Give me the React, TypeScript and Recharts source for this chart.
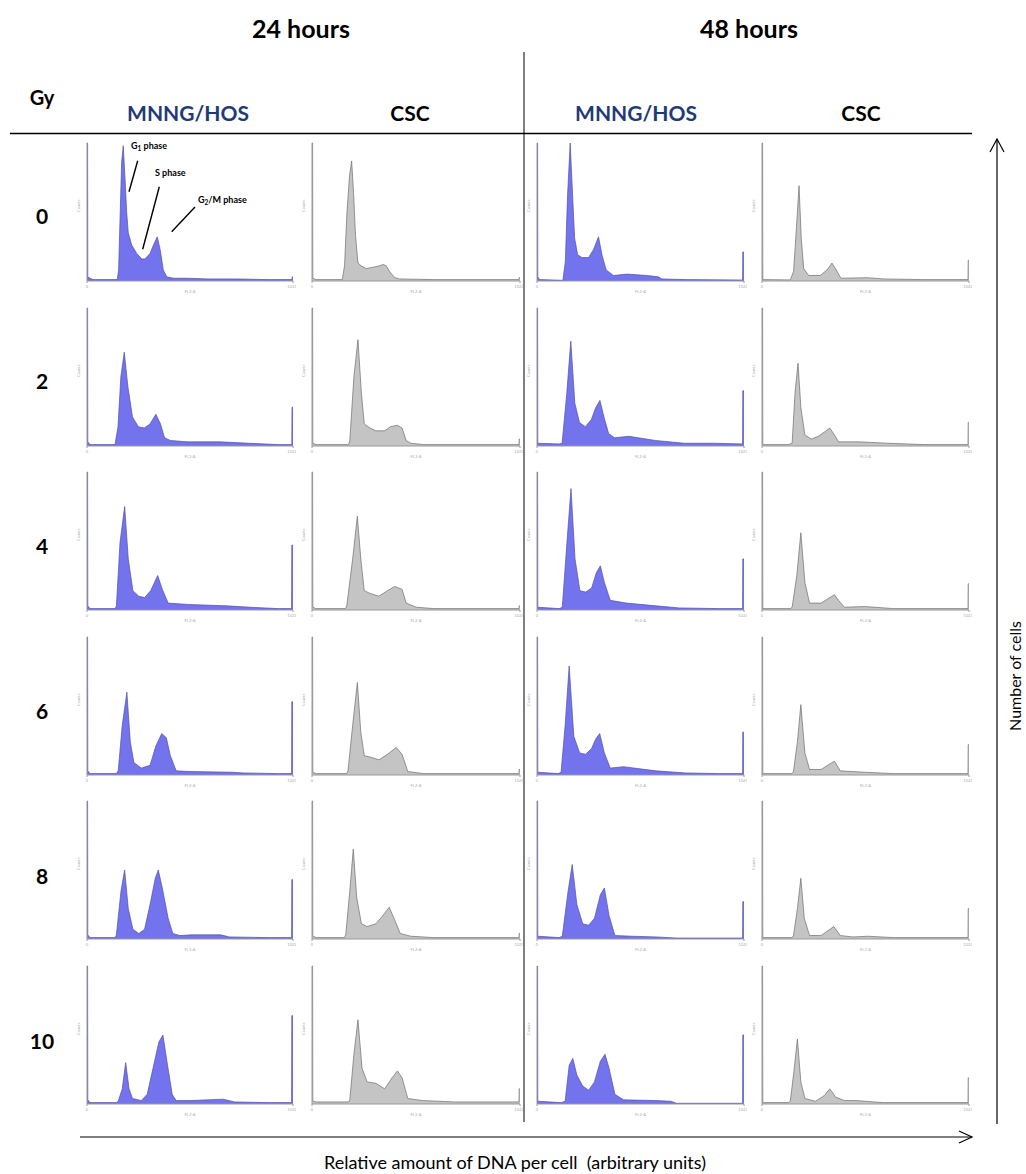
import React from 'react';
import { AreaChart, Area, XAxis, YAxis } from 'recharts';

// DNA histograms, [channel, % of full scale]
const hos24_0 = [[0,100],[3,100],[4,3],[15,2],[30,1],[150,1],[157,8],[165,50],[172,86],[180,98],[189,74],[197,50],[205,35],[222,26],[247,20],[272,16],[288,16],[313,20],[330,26],[349,32],[363,23],[379,8],[396,3],[430,2],[500,2],[600,1.5],[743,1.5],[900,1],[1018,1],[1019,3],[1023,3]];
const csc24_0 = [[0,100],[3,100],[4,2],[20,1],[149,1],[160,11],[172,50],[185,77],[195,87],[205,62],[214,33],[226,13],[242,11],[267,9],[300,10],[332,11],[350,12],[365,11],[381,7],[406,2.5],[430,1.5],[600,1],[1018,1],[1019,2.5],[1023,2.5]];
const hos48_0 = [[0,100],[3,100],[4,3],[12,1],[128,0.5],[140,14],[151,62],[164,100],[176,62],[186,31],[201,19],[222,17],[255,17],[280,23],[304,32],[321,19],[342,8],[378,4],[444,5],[543,4],[600,3],[617,1.5],[740,1],[1016,0.7],[1017,21],[1023,21]];
const csc48_0 = [[0,100],[3,100],[4,1],[140,0.8],[156,7],[170,38],[183,69],[194,31],[206,9],[231,4],[288,4],[321,8],[346,13],[367,8],[390,2],[519,2.4],[601,1.5],[800,1],[1018,1],[1019,15],[1023,15]];

const hos24_2 = [[0,100],[3,100],[4,3],[15,1],[139,1],[154,14],[168,50],[185,68],[203,43],[226,21],[255,14],[284,13],[313,16],[342,23],[365,16],[385,6],[414,4],[500,3],[661,3],[806,2],[950,1],[1017,1],[1018,28],[1023,28]];
const csc24_2 = [[0,100],[3,100],[4,2],[20,1],[180,1],[186,4],[206,50],[226,77],[243,38],[257,16],[286,13],[314,11],[357,11],[386,14],[420,15],[443,13],[463,4],[486,2],[550,1],[1018,1],[1019,5],[1023,5]];
const hos48_2 = [[0,100],[3,100],[4,2],[110,1.5],[124,2],[147,38],[167,76],[187,31],[210,17],[239,14],[268,19],[291,28],[311,33],[331,21],[354,9],[383,6],[455,7],[585,4],[729,2],[873,2],[1016,1.5],[1017,40],[1023,40]];
const csc48_2 = [[0,100],[3,100],[4,1],[130,1],[149,2],[163,38],[178,60],[192,28],[212,8],[244,5],[278,7],[307,10],[335,13],[358,8],[378,3],[479,3],[622,2],[800,1],[1018,1],[1019,17],[1023,17]];

const hos24_4 = [[0,100],[3,100],[4,3],[15,1],[140,1],[146,3],[164,49],[187,75],[205,37],[228,14],[257,10],[286,9],[316,14],[351,25],[374,15],[403,5],[505,4],[695,3],[812,2],[950,1],[1016,1],[1017,47],[1023,47]];
const csc24_4 = [[0,100],[3,100],[4,2],[20,1],[165,1],[171,3],[200,37],[223,68],[240,37],[257,14],[286,12],[329,10],[371,14],[406,17],[443,15],[463,5],[514,2],[600,1],[1018,1],[1019,3],[1023,3]];
const hos48_4 = [[0,100],[3,100],[4,2],[110,1],[125,2],[148,49],[168,88],[188,37],[212,14],[241,13],[270,16],[293,27],[313,32],[333,20],[362,7],[443,5],[588,3],[704,1.5],[900,1],[1016,1],[1017,37],[1023,37]];
const csc48_4 = [[0,100],[3,100],[4,1],[140,1],[149,2],[172,25],[192,56],[212,20],[235,5],[292,5],[335,9],[358,11],[378,7],[407,2],[507,2.5],[650,1],[1018,1],[1019,19],[1023,19]];

const hos24_6 = [[0,100],[3,100],[4,3],[15,1],[145,1],[155,3],[175,36],[198,60],[215,24],[233,9],[270,5],[313,7],[342,21],[371,30],[394,27],[414,14],[443,3],[516,2.5],[719,2],[777,1.5],[950,1],[1016,1],[1017,53],[1023,53]];
const csc24_6 = [[0,100],[3,100],[4,2],[20,1],[170,1],[177,3],[200,36],[223,67],[240,31],[257,14],[286,13],[329,11],[371,15],[414,20],[443,15],[471,2.5],[550,1],[1018,1],[1019,4],[1023,4]];
const hos48_6 = [[0,100],[3,100],[4,2],[105,1],[119,2],[139,36],[159,79],[182,28],[211,16],[240,15],[269,19],[290,26],[310,30],[333,16],[362,5],[428,6],[588,3],[733,1.5],[900,1],[1016,1],[1017,31],[1023,31]];
const csc48_6 = [[0,100],[3,100],[4,1],[145,1],[155,2],[175,24],[192,51],[212,16],[235,4],[292,4],[335,8],[358,10],[387,3],[507,2],[650,1],[1018,1],[1019,22],[1023,22]];

const hos24_8 = [[0,100],[3,100],[4,3],[15,1],[140,1],[146,3],[169,35],[187,50],[205,22],[228,7],[257,4],[286,7],[316,27],[339,44],[354,50],[374,37],[403,15],[426,4],[461,2.5],[519,3],[664,3],[708,1.5],[900,1],[1016,1],[1017,43],[1023,43]];
const csc24_8 = [[0,100],[3,100],[4,2],[20,1],[160,1],[166,3],[186,35],[203,65],[220,30],[243,11],[271,9],[314,11],[343,16],[380,23],[406,14],[434,4],[486,2],[600,1],[1018,1],[1019,4],[1023,4]];
const hos48_8 = [[0,100],[3,100],[4,2],[110,1],[125,2],[154,35],[174,54],[197,25],[226,11],[255,10],[284,15],[313,32],[333,37],[356,17],[385,2.5],[472,2],[588,1.5],[690,0.7],[1016,0.7],[1017,27],[1023,27]];
const csc48_8 = [[0,100],[3,100],[4,1],[145,1],[155,2],[175,22],[192,44],[209,15],[235,2.5],[292,2.5],[335,7],[355,9],[387,2.5],[450,1.5],[522,2],[650,1],[1018,1],[1019,22],[1023,22]];

const hos24_10 = [[0,100],[3,100],[4,3],[15,1],[145,1],[155,2],[175,11],[192,30],[209,11],[226,4],[270,2.5],[299,7],[328,26],[357,45],[377,50],[400,28],[423,7],[443,2.5],[516,2.5],[676,3.5],[734,1.5],[900,1],[1016,1],[1017,64],[1023,64]];
const csc24_10 = [[0,100],[3,100],[4,2],[20,1.5],[180,1.5],[186,3],[206,36],[226,61],[246,26],[271,16],[314,15],[357,11],[394,19],[420,24],[443,19],[471,4],[543,2.5],[700,1.5],[1018,1.5],[1019,11],[1023,11]];
const hos48_10 = [[0,100],[3,100],[4,2],[120,1],[139,2],[159,28],[177,33],[197,21],[226,13],[255,10],[284,16],[313,31],[336,36],[356,26],[385,7],[428,3],[588,2.5],[661,2],[690,0.5],[1016,0.5],[1017,50],[1023,50]];
const csc48_10 = [[0,100],[3,100],[4,1],[130,1],[140,2],[158,24],[175,47],[192,16],[212,4],[264,2],[307,6],[335,11],[364,5],[407,2.5],[464,2.5],[600,1],[1018,1],[1019,19],[1023,19]];

const doses = ['0', '2', '4', '6', '8', '10'];
const groups = ['MNNG/HOS', 'CSC', 'MNNG/HOS', 'CSC'];
const grid = [
  [hos24_0, csc24_0, hos48_0, csc48_0],
  [hos24_2, csc24_2, hos48_2, csc48_2],
  [hos24_4, csc24_4, hos48_4, csc48_4],
  [hos24_6, csc24_6, hos48_6, csc48_6],
  [hos24_8, csc24_8, hos48_8, csc48_8],
  [hos24_10, csc24_10, hos48_10, csc48_10],
];

const colLeft = [87, 312, 537, 762];
const colRight = [293, 520, 744, 969];
const groupX = [188, 410, 636, 861];
const ROW0 = 143;
const ROW_STEP = 164.6;
const PLOT_H = 138;
const Y_W = 10;
const X_H = 12;
const FONT = 'Lato, "Open Sans", sans-serif';
const NAVY = '#1f3a78';

const Panel = ({ data, col, row }: { data: number[][]; col: number; row: number }) => {
  const blue = col % 2 === 0;
  const rows = data.map(([ch, v]) => ({ ch, v }));
  const width = colRight[col] - colLeft[col] + Y_W + 3;
  return (
    <div style={{ position: 'absolute', left: colLeft[col] - Y_W, top: ROW0 + ROW_STEP * row - 2 }}>
      <AreaChart width={width} height={PLOT_H + 2 + X_H} data={rows} margin={{ top: 2, right: 3, bottom: 0, left: 0 }}>
        <XAxis
          dataKey="ch"
          type="number"
          domain={[0, 1023]}
          ticks={[0, 1023]}
          height={X_H}
          stroke="#9a9a9a"
          tickSize={2}
          tick={{ fontSize: 4, fill: '#aaa' }}
          label={{ value: 'FL2-A', position: 'insideBottom', offset: 0, fontSize: 4, fill: '#aaa' }}
        />
        <YAxis
          type="number"
          domain={[0, 100]}
          ticks={[0, 25, 50, 75, 100]}
          width={Y_W}
          stroke="#9a9a9a"
          tickSize={2}
          tick={false}
          label={{ value: 'Counts', angle: -90, position: 'insideLeft', offset: 2, fontSize: 4, fill: '#aaa' }}
        />
        <Area
          type="linear"
          dataKey="v"
          stroke={blue ? '#5050a8' : '#6e6e6e'}
          strokeWidth={0.7}
          fill={blue ? '#7373ee' : '#c4c4c4'}
          fillOpacity={1}
          isAnimationActive={false}
          dot={false}
          activeDot={false}
        />
      </AreaChart>
    </div>
  );
};

const App = () => {
  return (
    <div style={{ position: 'absolute', left: 0, top: 0, width: 1026, height: 1174, background: '#fff', fontFamily: FONT }}>
      {grid.map((r, ri) => r.map((d, ci) => <Panel key={`${ri}-${ci}`} data={d} col={ci} row={ri} />))}
      <svg width={1026} height={1174} style={{ position: 'absolute', left: 0, top: 0, pointerEvents: 'none' }} fontFamily={FONT}>
        <text x={301} y={28} textAnchor="middle" dominantBaseline="central" fontSize={25} fontWeight="bold">24 hours</text>
        <text x={749} y={28} textAnchor="middle" dominantBaseline="central" fontSize={25} fontWeight="bold">48 hours</text>
        <text x={42} y={97} textAnchor="middle" dominantBaseline="central" fontSize={20} fontWeight="bold">Gy</text>
        {groups.map((g, i) => (
          <text key={i} x={groupX[i]} y={112} textAnchor="middle" dominantBaseline="central" fontSize={21} fontWeight="bold" fill={g === 'CSC' ? '#000' : NAVY}>{g}</text>
        ))}
        <line x1={524} y1={52} x2={524} y2={1122} stroke="#000" strokeWidth={1} />
        <line x1={10} y1={133.5} x2={972} y2={133.5} stroke="#000" strokeWidth={1.5} />
        {doses.map((d, i) => (
          <text key={d} x={42} y={215 + 165 * i} textAnchor="middle" dominantBaseline="central" fontSize={21} fontWeight="bold">{d}</text>
        ))}
        {/* phase annotations on the first panel */}
        <g fontSize={9} fontWeight="bold">
          <text x={131} y={149}>G<tspan fontSize={6.5} dy={2}>1</tspan><tspan dy={-2}> phase</tspan></text>
          <text x={155} y={176}>S phase</text>
          <text x={198} y={203}>G<tspan fontSize={6.5} dy={2}>2</tspan><tspan dy={-2}>/M phase</tspan></text>
        </g>
        <line x1={137.7} y1={160.7} x2={129} y2={191.7} stroke="#000" strokeWidth={1.4} />
        <line x1={159.3} y1={186.7} x2={142.7} y2={249.3} stroke="#000" strokeWidth={1.4} />
        <line x1={195} y1={207} x2={171.7} y2={231.7} stroke="#000" strokeWidth={1.4} />
        {/* axis arrows */}
        <line x1={997} y1={1124} x2={997} y2={139} stroke="#000" strokeWidth={1.2} />
        <polyline points="990,152 997,139 1004,152" fill="none" stroke="#000" strokeWidth={1.2} />
        <text x={1014} y={676} textAnchor="middle" dominantBaseline="central" fontSize={16} transform="rotate(-90 1014 676)">Number of cells</text>
        <line x1={80} y1={1137} x2={972} y2={1137} stroke="#000" strokeWidth={1.2} />
        <polyline points="959,1131 972,1137 959,1143" fill="none" stroke="#000" strokeWidth={1.2} />
        <text x={515} y={1162} textAnchor="middle" dominantBaseline="central" fontSize={18} style={{ whiteSpace: 'pre' }}>Relative amount of DNA per cell  (arbitrary units)</text>
      </svg>
    </div>
  );
};

export default App;
